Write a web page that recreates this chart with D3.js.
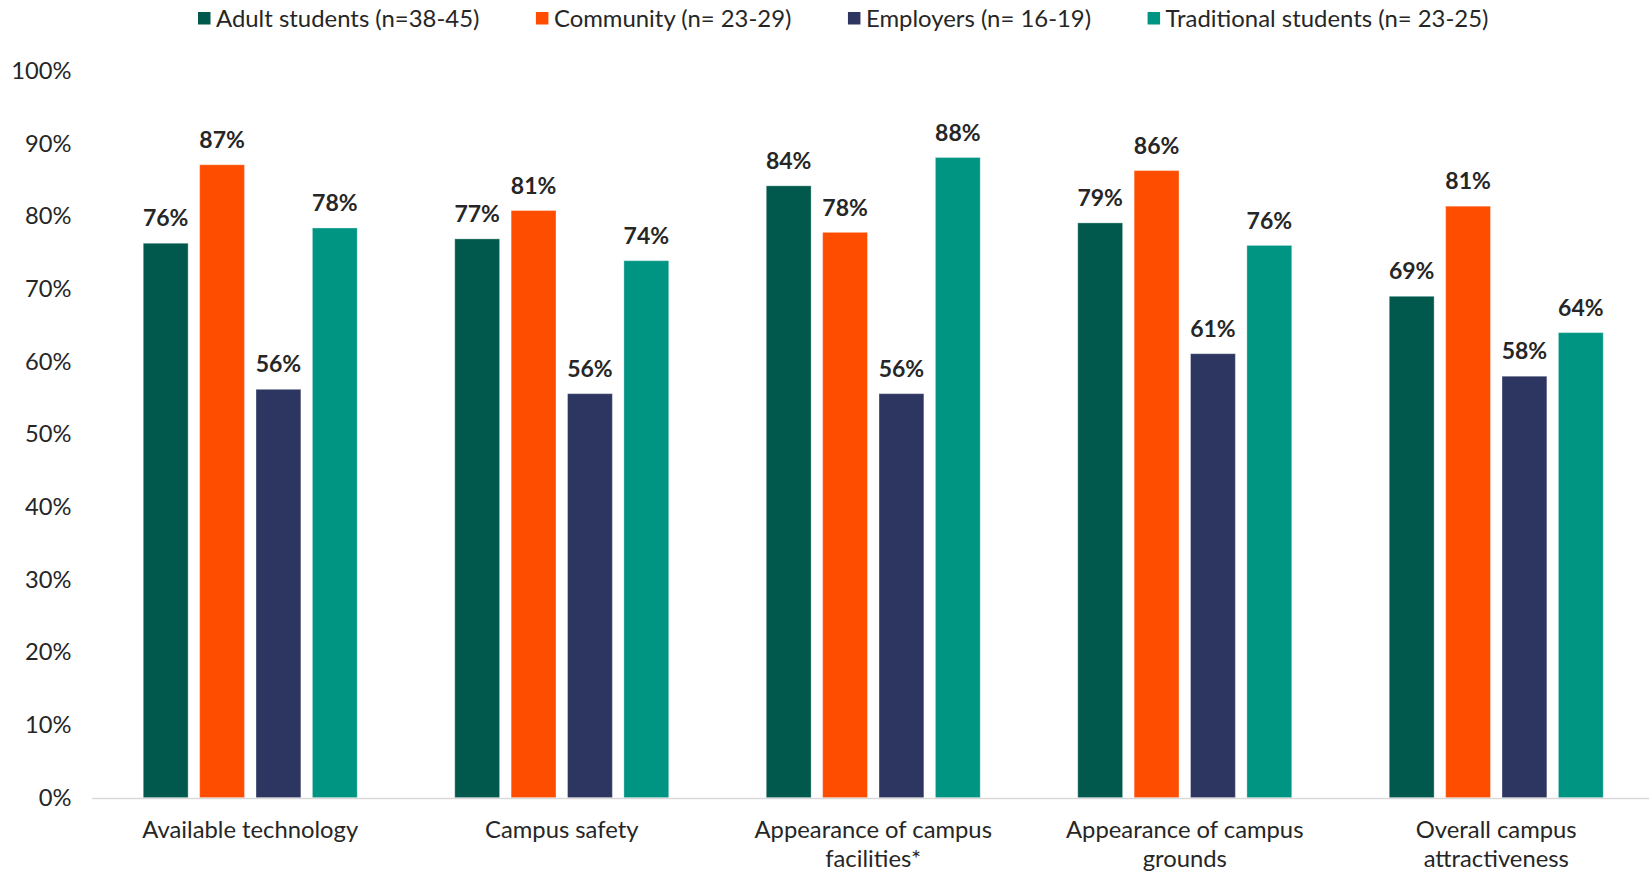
<!DOCTYPE html>
<html><head><meta charset="utf-8">
<script src="https://cdn.jsdelivr.net/npm/d3@7"></script>
<style>
html,body{margin:0;padding:0;background:#fff;}
svg{display:block;font-family:Lato,"Open Sans",sans-serif;}
</style></head>
<body><svg id="chart" width="1649" height="873"></svg>
<script>
const categories = [
  ["Available technology"],
  ["Campus safety"],
  ["Appearance of campus", "facilities*"],
  ["Appearance of campus", "grounds"],
  ["Overall campus", "attractiveness"]
];
const seriesNames = ["Adult students (n=38-45)", "Community (n= 23-29)", "Employers (n= 16-19)", "Traditional students (n= 23-25)"];
const seriesColors = ["#00594C", "#FF4D00", "#2D3661", "#009482"];
const adultStudents = [76.3, 76.9, 84.2, 79.1, 69.0];
const community = [87.1, 80.8, 77.8, 86.3, 81.4];
const employers = [56.2, 55.6, 55.6, 61.1, 58.0];
const traditionalStudents = [78.4, 73.9, 88.1, 76.0, 64.0];
const yTicks = [0, 10, 20, 30, 40, 50, 60, 70, 80, 90, 100];

const series = [adultStudents, community, employers, traditionalStudents];
const svg = d3.select("#chart");
const plotLeft = 94.5, plotRight = 1652, plotTop = 71, plotBottom = 797.7;

const x0 = d3.scaleBand().domain(d3.range(categories.length)).range([plotLeft, plotRight]).paddingInner(0.313).paddingOuter(0.1565);
const x1 = d3.scaleBand().domain(d3.range(series.length)).range([0, x0.bandwidth()]).paddingInner(0.204);
const y = d3.scaleLinear().domain([0, 100]).range([plotBottom, plotTop]);

// y axis labels
const yAxis = d3.axisLeft(y).tickValues(yTicks).tickFormat(d => d + "%").tickSize(0).tickPadding(0);
const yg = svg.append("g").attr("transform", "translate(71.5,0)").call(yAxis);
yg.select(".domain").remove();
yg.selectAll("text").attr("font-size", 23.7).attr("fill", "#262626").attr("font-family", "Lato");

// bars
const groups = svg.append("g").selectAll("g").data(categories).join("g")
  .attr("transform", (d, i) => `translate(${x0(i)},0)`);
groups.each(function(c, ci) {
  const g = d3.select(this);
  series.forEach((s, si) => {
    g.append("rect")
      .attr("x", x1(si)).attr("width", x1.bandwidth())
      .attr("y", y(s[ci])).attr("height", y(0) - y(s[ci]))
      .attr("fill", seriesColors[si])
      .attr("stroke", "rgba(255,255,255,0.35)").attr("stroke-width", 1);
    g.append("text")
      .attr("x", x1(si) + x1.bandwidth() / 2)
      .attr("y", y(s[ci]) - 16.8)
      .attr("text-anchor", "middle")
      .attr("font-size", 23).attr("font-weight", "bold").attr("fill", "#262626")
      .text(Math.round(s[ci]) + "%");
  });
});

// x axis line
svg.append("line").attr("x1", 92).attr("x2", 1649).attr("y1", plotBottom + 0.8).attr("y2", plotBottom + 0.8)
  .attr("stroke", "#d9d9d9").attr("stroke-width", 1.6);

// category labels
categories.forEach((lines, ci) => {
  const t = svg.append("text").attr("text-anchor", "middle").attr("font-size", 23.8).attr("fill", "#262626");
  lines.forEach((ln, li) => {
    t.append("tspan").attr("x", x0(ci) + x0.bandwidth() / 2).attr("y", 838 + li * 28.5).text(ln);
  });
});

// legend
let lx = 198;
seriesNames.forEach((name, i) => {
  svg.append("rect").attr("x", lx).attr("y", 12).attr("width", 12.5).attr("height", 12.5).attr("fill", seriesColors[i]);
  const t = svg.append("text").attr("x", lx + 18).attr("y", 26.5).attr("font-size", 23.9).attr("fill", "#262626").text(name);
  lx += 18 + t.node().getComputedTextLength() + 56.5;
});
</script></body></html>
